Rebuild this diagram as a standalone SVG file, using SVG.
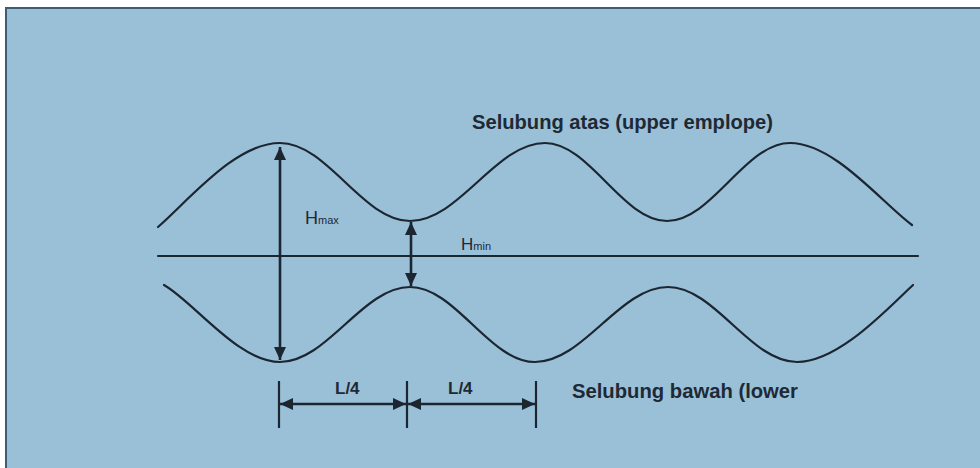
<svg xmlns="http://www.w3.org/2000/svg" width="980" height="468" viewBox="0 0 980 468">
  <style>
    .wave { fill: none; stroke: #1c2631; stroke-width: 2.2; stroke-linecap: round; }
    .dim { fill: none; stroke: #1c2631; stroke-width: 2.6; }
    .tick { fill: none; stroke: #1c2631; stroke-width: 2.2; }
    .lbl { font-family: "Liberation Sans", Arial, sans-serif; fill: #1e2934; font-weight: bold; }
    .sym { font-family: "Liberation Sans", Arial, sans-serif; fill: #1e2934; }
  </style>
  <defs>
    <marker id="ah" viewBox="0 0 13 12" refX="13" refY="6" markerWidth="13" markerHeight="12" markerUnits="userSpaceOnUse" orient="auto-start-reverse">
      <path d="M0,0 L13,6 L0,12 z" fill="#1c2631"/>
    </marker>
  </defs>
  <rect x="0" y="0" width="980" height="468" fill="#ffffff"/>
  <rect id="panel" x="6" y="8" width="990" height="480" fill="#9ac0d8" stroke="#3f5d72" stroke-width="2"/>

  <g id="upper-envelope">
    <path class="wave" d="M158,227 C190,199 235.6,143 280,143 C327.3,143 362.7,221 410,221 C459.2,221 495.8,143 545,143 C589.4,143 622.6,221 667,221 C711.8,221 745.2,143 790,143 C834.4,143 882,203 912,225"/>
  </g>
  <g id="center-line">
    <line class="wave" x1="158" y1="256" x2="918" y2="256" stroke-width="3"/>
  </g>
  <g id="lower-envelope">
    <path class="wave" d="M164,285 C194,302 238,362 280,362 C327.3,362 362.7,287 410,287 C455.5,287 489.5,362 535,362 C583.4,362 619.6,287 668,287 C715,287 750,362 797,362 C839,362 888,308 913,285"/>
  </g>

  <g id="connectors">
    <line class="dim" x1="280" y1="147" x2="280" y2="360" marker-start="url(#ah)" marker-end="url(#ah)"/>
    <line class="dim" x1="411" y1="222" x2="411" y2="286" marker-start="url(#ah)" marker-end="url(#ah)"/>
    <line class="tick" x1="279" y1="381" x2="279" y2="428"/>
    <line class="tick" x1="407" y1="381" x2="407" y2="428"/>
    <line class="tick" x1="536" y1="381" x2="536" y2="428"/>
    <line class="dim" x1="280" y1="404" x2="406" y2="404" stroke-width="3" marker-start="url(#ah)" marker-end="url(#ah)"/>
    <line class="dim" x1="408" y1="404" x2="535" y2="404" stroke-width="3" marker-start="url(#ah)" marker-end="url(#ah)"/>
  </g>

  <g id="labels">
    <text class="lbl" x="472" y="129" font-size="21" textLength="301" lengthAdjust="spacingAndGlyphs">Selubung atas (upper emplope)</text>
    <text class="lbl" x="572" y="398" font-size="20" textLength="226" lengthAdjust="spacingAndGlyphs">Selubung bawah (lower</text>
    <text class="sym" x="305" y="224" font-size="18">H<tspan font-size="11">max</tspan></text>
    <text class="sym" x="461" y="250" font-size="17">H<tspan font-size="11">min</tspan></text>
    <text class="lbl" x="335" y="394" font-size="17" font-weight="normal">L/4</text>
    <text class="lbl" x="448" y="394" font-size="17" font-weight="normal">L/4</text>
  </g>
</svg>
